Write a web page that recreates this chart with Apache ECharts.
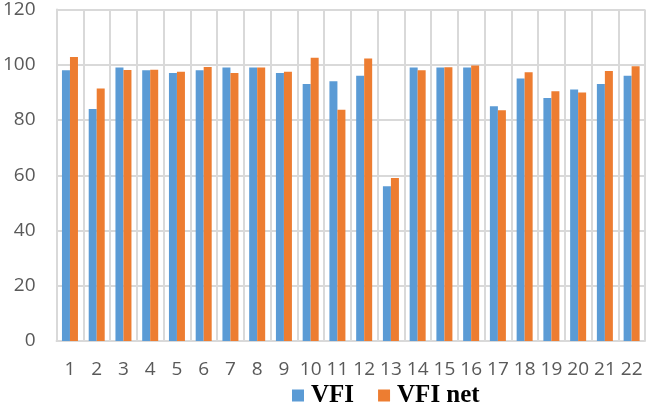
<!DOCTYPE html>
<html>
<head>
<meta charset="utf-8">
<script src="https://cdn.jsdelivr.net/npm/echarts@6/dist/echarts.min.js"></script>
<style>html,body{margin:0;padding:0;background:#fff}#c{width:646px;height:403px}</style>
</head>
<body>
<div id="c"></div>
<script>
const categories = ['1','2','3','4','5','6','7','8','9','10','11','12','13','14','15','16','17','18','19','20','21','22'];
const vfi = [98,84,99,98,97,98,99,99,97,93,94,96,56,99,99,99,85,95,88,91,93,96];
const vfiNet = [102.8,91.4,98.1,98.2,97.5,99.2,97,99,97.5,102.5,83.7,102.3,59,98,99.1,99.7,83.5,97.3,90.4,90,97.7,99.5];
const yTicks = [0,20,40,60,80,100,120];

const chart = echarts.init(document.getElementById('c'), null, {renderer:'canvas'});
chart.setOption({
  animation:false,
  grid:{left:52,right:1,top:8,bottom:62},
  legend:{
    top:383,left:292,itemGap:24,itemWidth:12,itemHeight:12,icon:'rect',padding:0,
    textStyle:{fontFamily:'Liberation Serif',fontWeight:'bold',fontSize:25,color:'#000',padding:[0,0,0,2]},
    data:['VFI','VFI net']
  },
  xAxis:{
    type:'category',data:categories,
    axisLine:{lineStyle:{color:'#d9d9d9',width:2}},
    axisTick:{show:false},
    splitLine:{show:true,lineStyle:{color:'#d9d9d9',width:2}},
    axisLabel:{fontFamily:'Open Sans',fontSize:19,color:'#595959',margin:19,interval:0}
  },
  yAxis:{
    type:'value',min:yTicks[0],max:yTicks[yTicks.length-1],interval:20,
    axisLine:{show:true,lineStyle:{color:'#d9d9d9',width:2}},
    axisTick:{show:false},
    splitLine:{lineStyle:{color:'#d9d9d9',width:2}},
    axisLabel:{fontFamily:'Open Sans',fontSize:19,color:'#595959',margin:21}
  },
  series:[
    {name:'VFI',type:'bar',data:vfi,barWidth:8,barGap:'0%',itemStyle:{color:'#5B9BD5'}},
    {name:'VFI net',type:'bar',data:vfiNet,barWidth:8,barGap:'0%',itemStyle:{color:'#ED7D31'}}
  ]
});
</script>
</body>
</html>
